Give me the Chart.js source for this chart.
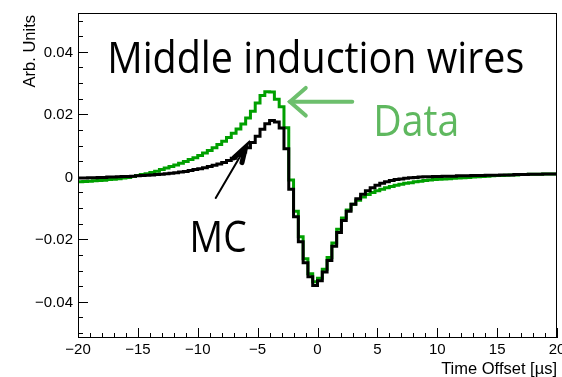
<!DOCTYPE html>
<html>
<head>
<meta charset="utf-8">
<script src="https://cdn.jsdelivr.net/npm/chart.js@4/dist/chart.umd.min.js"></script>
<style>
  html, body { margin: 0; padding: 0; background: #fff; }
  #wrap { width: 562px; height: 377px; }
</style>
</head>
<body>
<div id="wrap"><canvas id="shapeChart" width="562" height="377"></canvas></div>
<script>
// histogram binning: 0.4 us bins from -20 to 20 us
const binStart = -20;
const binWidth = 0.4;

// Data (green)
const dataValues = [
  -0.0016, -0.0015, -0.0014, -0.0013, -0.0012, -0.0011, -0.0009, -0.0008, -0.0006, -0.0004,
  -0.0002,  0.0001,  0.0004,  0.0007,  0.0010,  0.0014,  0.0018,  0.0023,  0.0028,  0.0033,
   0.0038,  0.0043,  0.0049,  0.0055,  0.0061,  0.0068,  0.0076,  0.0084,  0.0093,  0.0103,
   0.0114,  0.0126,  0.0139,  0.0153,  0.0169,  0.0188,  0.0210,  0.0236,  0.0260,  0.0272,
   0.0271,  0.0248,  0.0224,  0.0157, -0.0010, -0.0110, -0.0192, -0.0262, -0.0310, -0.0336,
  -0.0325, -0.0296, -0.0258, -0.0212, -0.0168, -0.0132, -0.0106, -0.0088, -0.0075, -0.0065,
  -0.0057, -0.0050, -0.0045, -0.0040, -0.0035, -0.0031, -0.0027, -0.0024, -0.0021, -0.0019,
  -0.0016, -0.0014, -0.0012, -0.0010, -0.0009, -0.0008, -0.0007, -0.0006, -0.0005, -0.0004,
  -0.0003, -0.0002, -0.0001,  0.0000,  0.0001,  0.0002,  0.0003,  0.0004,  0.0004,  0.0005,
   0.0006,  0.0006,  0.0007,  0.0007,  0.0008,  0.0008,  0.0008,  0.0009,  0.0009,  0.0009
];

// MC (black)
const mcValues = [
  -0.0004, -0.0004, -0.0003, -0.0003, -0.0002, -0.0002, -0.0001, -0.0001,  0.0000,  0.0001,
   0.0001,  0.0002,  0.0003,  0.0004,  0.0005,  0.0006,  0.0007,  0.0008,  0.0010,  0.0011,
   0.0013,  0.0015,  0.0017,  0.0020,  0.0023,  0.0026,  0.0029,  0.0033,  0.0037,  0.0041,
   0.0046,  0.0052,  0.0059,  0.0068,  0.0079,  0.0093,  0.0110,  0.0130,  0.0152,  0.0170,
   0.0180,  0.0175,  0.0156,  0.0090, -0.0040, -0.0128, -0.0208, -0.0275, -0.0320, -0.0348,
  -0.0333, -0.0305, -0.0268, -0.0222, -0.0178, -0.0140, -0.0110, -0.0088, -0.0070, -0.0056,
  -0.0045, -0.0035, -0.0027, -0.0021, -0.0016, -0.0012, -0.0009, -0.0007, -0.0005, -0.0003,
  -0.0002, -0.0001,  0.0000,  0.0000,  0.0001,  0.0001,  0.0002,  0.0002,  0.0002,  0.0003,
   0.0003,  0.0003,  0.0004,  0.0004,  0.0004,  0.0005,  0.0005,  0.0005,  0.0006,  0.0006,
   0.0006,  0.0007,  0.0007,  0.0007,  0.0008,  0.0008,  0.0008,  0.0009,  0.0009,  0.0009
];

const xTicks = [-20, -15, -10, -5, 0, 5, 10, 15, 20];
const yTicks = [-0.04, -0.02, 0, 0.02, 0.04];
const xRange = [-20, 20];
const yRange = [-0.0516, 0.0524];

const axisFont = '"Liberation Sans", Arial, sans-serif';
const handFont = '"Open Sans", "DejaVu Sans", sans-serif';

// histogram -> step points (left bin edges + closing right edge)
function toSteps(values) {
  var pts = values.map(function(v, i) { return { x: binStart + i * binWidth, y: v }; });
  pts.push({ x: binStart + values.length * binWidth, y: values[values.length - 1] });
  return pts;
}

function fmtTick(v) {
  var s = String(Math.round(v * 1000) / 1000);
  return s.replace('-', '\u2212');
}

// text stretched/squeezed to a given width
function fitText(ctx, text, cx, base, width, size, color) {
  ctx.save();
  ctx.font = size + 'px ' + handFont;
  var w = ctx.measureText(text).width;
  ctx.translate(cx, base);
  ctx.scale(width / w, 1);
  ctx.textAlign = 'center';
  ctx.textBaseline = 'alphabetic';
  ctx.fillStyle = color;
  ctx.fillText(text, 0, 0);
  ctx.restore();
}

function arrowHead(ctx, x0, y0, x1, y1, len, spread) {
  var a = Math.atan2(y1 - y0, x1 - x0);
  ctx.beginPath();
  ctx.moveTo(x1 - len * Math.cos(a - spread), y1 - len * Math.sin(a - spread));
  ctx.lineTo(x1, y1);
  ctx.lineTo(x1 - len * Math.cos(a + spread), y1 - len * Math.sin(a + spread));
  ctx.stroke();
}

// frame, inside ticks, tick labels, axis titles and the hand-written notes
const rootStyle = {
  id: 'rootStyle',
  afterDraw: function(chart) {
    var ctx = chart.ctx, a = chart.chartArea;
    var xs = chart.scales.x, ys = chart.scales.y;
    ctx.save();
    ctx.strokeStyle = '#000';
    ctx.lineWidth = 1;
    ctx.strokeRect(a.left + 0.5, a.top + 0.5, a.right - a.left - 1, a.bottom - a.top - 1);

    ctx.beginPath();
    // y ticks: major every 0.02, minor every 0.005
    for (var v = -0.05; v <= 0.0501; v += 0.005) {
      var py = Math.round(ys.getPixelForValue(v)) + 0.5;
      var major = Math.abs(Math.round(v / 0.005) % 4) === 0;
      ctx.moveTo(a.left, py);
      ctx.lineTo(a.left + (major ? 10 : 5), py);
    }
    // x ticks: major every 5, minor every 1
    for (var t = -20; t <= 20; t++) {
      var px = Math.round(xs.getPixelForValue(t)) + 0.5;
      ctx.moveTo(px, a.bottom);
      ctx.lineTo(px, a.bottom - (t % 5 === 0 ? 10 : 5));
    }
    ctx.stroke();

    // tick labels
    ctx.fillStyle = '#000';
    ctx.font = '15px ' + axisFont;
    ctx.textBaseline = 'alphabetic';
    ctx.textAlign = 'right';
    yTicks.forEach(function(val) {
      ctx.fillText(fmtTick(val), a.left - 5, ys.getPixelForValue(val) + 5);
    });
    ctx.textAlign = 'center';
    xTicks.forEach(function(val) {
      ctx.fillText(fmtTick(val), xs.getPixelForValue(val), a.bottom + 16);
    });

    // axis titles
    ctx.font = '16.5px ' + axisFont;
    ctx.textAlign = 'right';
    ctx.fillText('Time Offset [\u00b5s]', a.right, 374);
    ctx.save();
    ctx.translate(35, a.top + 2);
    ctx.rotate(-Math.PI / 2);
    ctx.textAlign = 'right';
    ctx.fillText('Arb. Units', 0, 0);
    ctx.restore();

    // notes
    fitText(ctx, 'Middle induction wires', xs.getPixelForValue(-0.15), ys.getPixelForValue(0.0333), 417, 44, '#000');
    fitText(ctx, 'Data', xs.getPixelForValue(8.25), ys.getPixelForValue(0.0131), 86, 44, '#5fb85f');
    fitText(ctx, 'MC', xs.getPixelForValue(-8.3), ys.getPixelForValue(-0.024), 57, 44, '#000');

    // green arrow pointing at the data peak
    var gx0 = xs.getPixelForValue(2.9), gy = ys.getPixelForValue(0.0240);
    var gx1 = xs.getPixelForValue(-2.3);
    ctx.strokeStyle = '#6dbf6d';
    ctx.lineWidth = 4;
    ctx.lineCap = 'round';
    ctx.beginPath();
    ctx.moveTo(gx0, gy);
    ctx.lineTo(gx1, gy);
    ctx.stroke();
    arrowHead(ctx, gx0, gy, gx1, gy, 21, 0.72);

    // black arrow pointing at the MC curve
    var bx0 = xs.getPixelForValue(-8.5), by0 = ys.getPixelForValue(-0.0068);
    var bx1 = xs.getPixelForValue(-6.0), by1 = ys.getPixelForValue(0.0095);
    ctx.strokeStyle = '#000';
    ctx.lineWidth = 2;
    ctx.beginPath();
    ctx.moveTo(bx0, by0);
    ctx.lineTo(bx1, by1);
    ctx.stroke();
    ctx.lineWidth = 5;
    arrowHead(ctx, bx0, by0, bx1, by1, 16, 0.3);
    ctx.restore();
  }
};

var ctx = document.getElementById('shapeChart').getContext('2d');
var shapeChart = new Chart(ctx, {
  type: 'line',
  data: {
    datasets: [
      {
        label: 'MC',
        data: toSteps(mcValues),
        borderColor: '#000000',
        borderWidth: 3,
        stepped: 'before',
        pointRadius: 0,
        fill: false,
        order: 0
      },
      {
        label: 'Data',
        data: toSteps(dataValues),
        borderColor: '#00a000',
        borderWidth: 3,
        stepped: 'before',
        pointRadius: 0,
        fill: false,
        order: 1
      }
    ]
  },
  options: {
    responsive: false,
    animation: false,
    layout: { padding: { left: 0, right: 5, top: 13, bottom: 0 } },
    plugins: {
      legend: { display: false },
      tooltip: { enabled: false }
    },
    scales: {
      x: {
        type: 'linear',
        min: xRange[0],
        max: xRange[1],
        grid: { display: false },
        border: { display: false },
        ticks: { display: false },
        afterBuildTicks: function(scale) { scale.ticks = xTicks.map(function(v) { return { value: v }; }); },
        afterFit: function(scale) {
          scale.height = 39;
          scale.paddingLeft = 0;
          scale.paddingRight = 0;
        }
      },
      y: {
        type: 'linear',
        min: yRange[0],
        max: yRange[1],
        grid: { display: false },
        border: { display: false },
        ticks: { display: false },
        afterBuildTicks: function(scale) { scale.ticks = yTicks.map(function(v) { return { value: v }; }); },
        afterFit: function(scale) {
          scale.width = 78;
          scale.paddingTop = 0;
          scale.paddingBottom = 0;
        }
      }
    }
  },
  plugins: [rootStyle]
});
</script>
</body>
</html>
